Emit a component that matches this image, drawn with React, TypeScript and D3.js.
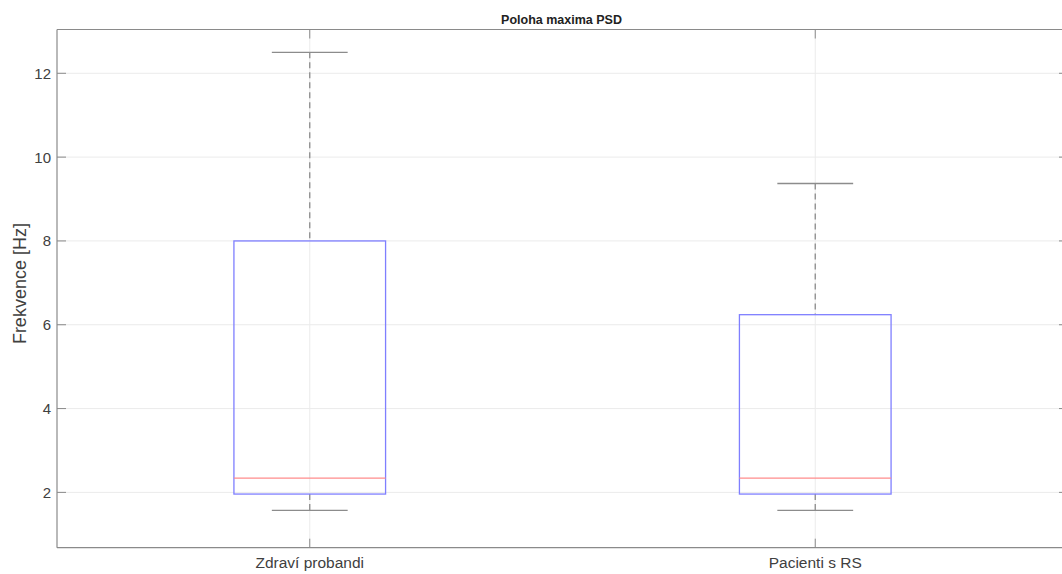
import React from "react";
import * as d3 from "d3";

const categories = ["Zdraví probandi", "Pacienti s RS"];
const lowerWhisker = [1.57, 1.57];
const q1 = [1.96, 1.96];
const median = [2.34, 2.34];
const q3 = [8.0, 6.24];
const upperWhisker = [12.5, 9.37];
const yTicks = [2, 4, 6, 8, 10, 12];
const title = "Poloha maxima PSD";
const yLabel = "Frekvence [Hz]";

const W = 1062, H = 574;
const L = 57, R = 1068, T = 29.5, B = 547.7;

export default function App() {
  const x = d3.scaleLinear().domain([0.5, 2.5]).range([L, R]);
  const y = d3.scaleLinear().domain([0.68, 13.045]).range([B, T]);
  const boxHalf = 0.15;
  const capHalf = 0.075;
  const axisColor = "#8a8a8a";
  const textColor = "#404040";
  const font = "Liberation Sans, Arial, sans-serif";
  return (
    <svg width={W} height={H} style={{ position: "absolute", left: 0, top: 0 }} fontFamily={font}>
      <rect x={0} y={0} width={W} height={H} fill="#fff" />
      {yTicks.map((t) => (
        <line key={"gy" + t} x1={L} x2={R} y1={y(t)} y2={y(t)} stroke="#ebebeb" strokeWidth={1} />
      ))}
      {categories.map((c, i) => (
        <line key={"gx" + i} x1={x(i + 1)} x2={x(i + 1)} y1={T} y2={B} stroke="#ebebeb" strokeWidth={1} />
      ))}
      {categories.map((c, i) => {
        const cx = x(i + 1);
        return (
          <g key={"b" + i}>
            <line x1={cx} x2={cx} y1={y(upperWhisker[i])} y2={y(q3[i])} stroke="#8c8c8c" strokeWidth={1.3} strokeDasharray="6,4" />
            <line x1={cx} x2={cx} y1={y(q1[i])} y2={y(lowerWhisker[i])} stroke="#8c8c8c" strokeWidth={1.3} strokeDasharray="6,4" />
            <line x1={x(i + 1 - capHalf)} x2={x(i + 1 + capHalf)} y1={y(upperWhisker[i])} y2={y(upperWhisker[i])} stroke="#8c8c8c" strokeWidth={1.3} />
            <line x1={x(i + 1 - capHalf)} x2={x(i + 1 + capHalf)} y1={y(lowerWhisker[i])} y2={y(lowerWhisker[i])} stroke="#8c8c8c" strokeWidth={1.3} />
            <rect x={x(i + 1 - boxHalf)} y={y(q3[i])} width={x(i + 1 + boxHalf) - x(i + 1 - boxHalf)} height={y(q1[i]) - y(q3[i])} fill="none" stroke="#7f7fff" strokeWidth={1.3} />
            <line x1={x(i + 1 - boxHalf)} x2={x(i + 1 + boxHalf)} y1={y(median[i])} y2={y(median[i])} stroke="#ff8c8c" strokeWidth={1.3} />
          </g>
        );
      })}
      <line x1={L} x2={R} y1={T} y2={T} stroke={axisColor} strokeWidth={1.2} />
      <line x1={L} x2={R} y1={B} y2={B} stroke={axisColor} strokeWidth={1.2} />
      <line x1={L} x2={L} y1={T} y2={B} stroke={axisColor} strokeWidth={1.2} />
      <line x1={R} x2={R} y1={T} y2={B} stroke={axisColor} strokeWidth={1.2} />
      {yTicks.map((t) => (
        <g key={"yt" + t}>
          <line x1={L} x2={L + 9} y1={y(t)} y2={y(t)} stroke={axisColor} strokeWidth={1} />
          <line x1={R - 9} x2={R} y1={y(t)} y2={y(t)} stroke={axisColor} strokeWidth={1} />
          <text x={L - 6} y={y(t)} dy="0.36em" textAnchor="end" fontSize={15} fill={textColor}>{t}</text>
        </g>
      ))}
      {categories.map((c, i) => (
        <g key={"xt" + i}>
          <line x1={x(i + 1)} x2={x(i + 1)} y1={B} y2={B - 9} stroke={axisColor} strokeWidth={1} />
          <line x1={x(i + 1)} x2={x(i + 1)} y1={T} y2={T + 9} stroke={axisColor} strokeWidth={1} />
          <text x={x(i + 1)} y={B + 20.5} textAnchor="middle" fontSize={15.5} fill={textColor}>{c}</text>
        </g>
      ))}
      <text x={(L + R) / 2 - 1} y={23.5} textAnchor="middle" fontSize={12.5} fontWeight="bold" fill="#222">{title}</text>
      <text transform={`translate(26,${(T + B) / 2 - 5}) rotate(-90)`} textAnchor="middle" fontSize={18} fill={textColor}>{yLabel}</text>
    </svg>
  );
}
